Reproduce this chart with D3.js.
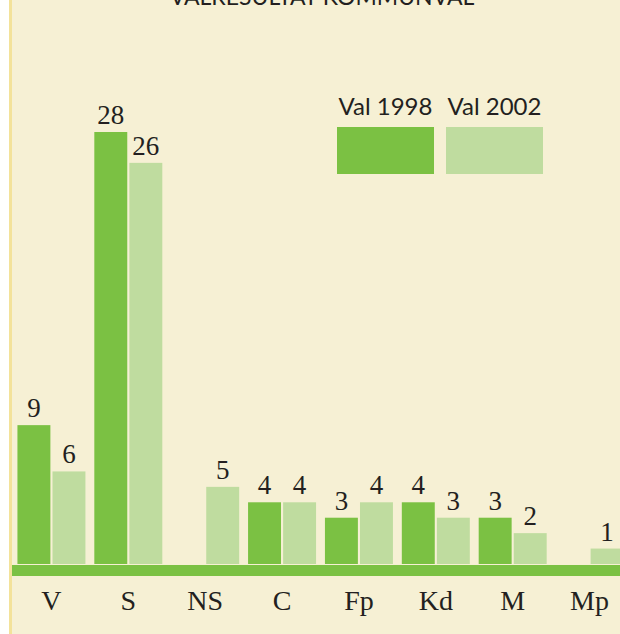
<!DOCTYPE html>
<html>
<head>
<meta charset="utf-8">
<script src="https://cdn.jsdelivr.net/npm/d3@7"></script>
<style>
  body { margin: 0; background: #ffffff; }
  svg { display: block; }
</style>
</head>
<body>
<div id="vis"></div>
<script>
// Valresultat kommunval, mandat per parti
const FRAME_WIDTH = 620;
const FRAME_HEIGHT = 634;

const parties = ["V", "S", "NS", "C", "Fp", "Kd", "M", "Mp"];
const seats1998 = [9, 28, 0, 4, 3, 4, 3, 0];
const seats2002 = [6, 26, 5, 4, 4, 3, 2, 1];
const seriesNames = ["Val 1998", "Val 2002"];

const DARK = "#7bc143";
const LIGHT = "#bfdc9f";
const BG = "#f6f0d4";
const INK = "#231f20";

const BASE_Y = 564;

const svg = d3.select("#vis")
  .append("svg")
    .attr("width", FRAME_WIDTH)
    .attr("height", FRAME_HEIGHT);

// background panel with yellow edge
svg.append("rect")
  .attr("x", 9).attr("y", 0)
  .attr("width", FRAME_WIDTH - 9).attr("height", FRAME_HEIGHT)
  .attr("fill", "#f3e29a");
svg.append("rect")
  .attr("x", 12).attr("y", 0)
  .attr("width", FRAME_WIDTH - 12).attr("height", FRAME_HEIGHT)
  .attr("fill", BG);

// title, cut at the top
svg.append("text")
  .attr("x", 322).attr("y", 5)
  .attr("text-anchor", "middle")
  .attr("font-family", "Lato, 'Open Sans', sans-serif")
  .attr("font-size", 23)
  .attr("fill", INK)
  .text("VALRESULTAT KOMMUNVAL");

const X_SCALE = d3.scaleBand()
  .domain(parties)
  .range([13, 628])
  .paddingInner(0)
  .paddingOuter(0);

const SUB = d3.scaleBand()
  .domain([0, 1])
  .range([-34, 34])
  .paddingInner(0.06);

const Y_SCALE = d3.scaleLinear()
  .domain([0, 28])
  .range([BASE_Y, 132]);

const rows = parties.map((p, i) => ({ party: p, vals: [seats1998[i], seats2002[i]] }));

const groups = svg.selectAll(".grp")
  .data(rows)
  .enter()
  .append("g")
    .attr("class", "grp")
    .attr("transform", d => "translate(" + (X_SCALE(d.party) + X_SCALE.bandwidth() / 2) + ",0)");

const cells = groups.selectAll(".cell")
  .data(d => d.vals.map((v, k) => ({ v: v, k: k })).filter(e => e.v > 0))
  .enter()
  .append("g")
    .attr("class", "cell");

cells.append("rect")
  .attr("x", d => SUB(d.k))
  .attr("y", d => Y_SCALE(d.v))
  .attr("width", SUB.bandwidth())
  .attr("height", d => BASE_Y - Y_SCALE(d.v))
  .attr("fill", d => d.k === 0 ? DARK : LIGHT);

cells.append("text")
  .attr("x", d => SUB(d.k) + SUB.bandwidth() / 2)
  .attr("y", d => Y_SCALE(d.v) - 8)
  .attr("text-anchor", "middle")
  .attr("font-family", "'Liberation Serif', 'Times New Roman', serif")
  .attr("font-size", 27)
  .attr("fill", INK)
  .text(d => d.v);

// green base band
svg.append("rect")
  .attr("x", 12).attr("y", BASE_Y + 1)
  .attr("width", FRAME_WIDTH - 12).attr("height", 11)
  .attr("fill", DARK);

// category labels
const xAxis = svg.append("g")
  .attr("transform", "translate(0," + (BASE_Y + 10) + ")")
  .call(d3.axisBottom(X_SCALE).tickSize(0).tickPadding(0));
xAxis.select(".domain").remove();
xAxis.selectAll("text")
  .attr("dy", 0)
  .attr("y", 36)
  .attr("font-family", "'Liberation Serif', 'Times New Roman', serif")
  .attr("font-size", 28)
  .attr("fill", INK);

// legend
const LEG_X = d3.scaleBand().domain(seriesNames).range([337, 543]).paddingInner(0.11);
const legend = svg.selectAll(".leg")
  .data(seriesNames)
  .enter()
  .append("g")
    .attr("class", "leg");
legend.append("rect")
  .attr("x", d => LEG_X(d))
  .attr("y", 127)
  .attr("width", LEG_X.bandwidth())
  .attr("height", 47)
  .attr("fill", (d, i) => i === 0 ? DARK : LIGHT);
legend.append("text")
  .attr("x", d => LEG_X(d) + LEG_X.bandwidth() / 2)
  .attr("y", 115)
  .attr("text-anchor", "middle")
  .attr("font-family", "Lato, 'Open Sans', sans-serif")
  .attr("font-size", 24)
  .attr("fill", INK)
  .attr("xml:space", "preserve")
  .text(d => d);
</script>
</body>
</html>
